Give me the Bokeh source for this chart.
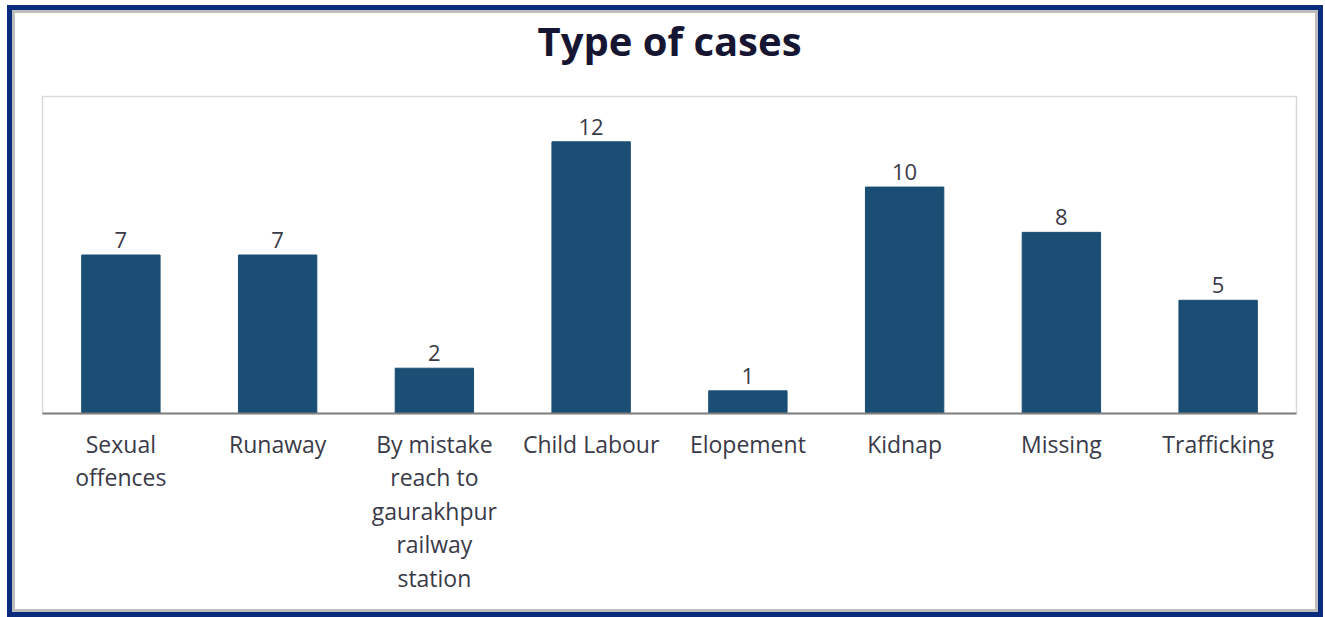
from bokeh.plotting import figure
from bokeh.models import ColumnDataSource, LabelSet, Range1d, Title
from bokeh.core.properties import value
from bokeh.embed import file_html
from bokeh.resources import INLINE

tick_labels = ["Sexual\noffences", "Runaway", "By mistake\nreach to\ngaurakhpur\nrailway\nstation",
               "Child Labour", "Elopement", "Kidnap", "Missing", "Trafficking"]
counts = [7, 7, 2, 12, 1, 10, 8, 5]

FONT = "Open Sans"
BAR = "#1B4E74"
TXT = "#3a3a48"

src = ColumnDataSource(dict(cat=tick_labels, val=counts, lab=[str(v) for v in counts]))

p = figure(x_range=tick_labels, y_range=Range1d(0, 14), width=1316, height=612,
           output_backend="svg", toolbar_location=None, title="Type of cases",
           min_border_left=35, min_border_right=27, min_border_top=91, min_border_bottom=204)

p.vbar(x="cat", top="val", width=0.5, source=src, color=BAR)

labels = LabelSet(x="cat", y="val", text="lab", source=src, text_align="center",
                  text_baseline="bottom", y_offset=7, text_font=value(FONT),
                  text_font_size="22px", text_color=TXT)
p.add_layout(labels)

p.title.align = "center"
p.title.text_font = FONT
p.title.text_font_size = "40px"
p.title.text_font_style = "bold"
p.title.text_color = "#161633"
p.title.standoff = 0

# empty spacer between title and plot area
p.add_layout(Title(text=" ", text_font_size="2px", standoff=25), "above")

p.yaxis.visible = False
p.xgrid.visible = False
p.ygrid.visible = False
p.xaxis.major_tick_line_color = None
p.xaxis.minor_tick_line_color = None
p.xaxis.axis_line_color = "#7f7f7f"
p.xaxis.axis_line_width = 2
p.xaxis.major_label_text_font = FONT
p.xaxis.major_label_text_font_size = "23px"
p.xaxis.major_label_text_color = TXT
p.xaxis.major_label_text_line_height = 1.05
p.xaxis.major_label_standoff = 8
p.x_range.range_padding = 0.0

p.outline_line_color = "#d9d9d9"
p.outline_line_width = 1.5
p.border_fill_color = None
p.styles = {"margin-left": "7px", "margin-top": "5px", "background": "white",
            "outline": "5px solid #0B2C7C", "outline-offset": "-5px",
            "box-shadow": "inset 0 0 0 8px #bdbdbd"}

open("out.html", "w").write(file_html(p, INLINE))
